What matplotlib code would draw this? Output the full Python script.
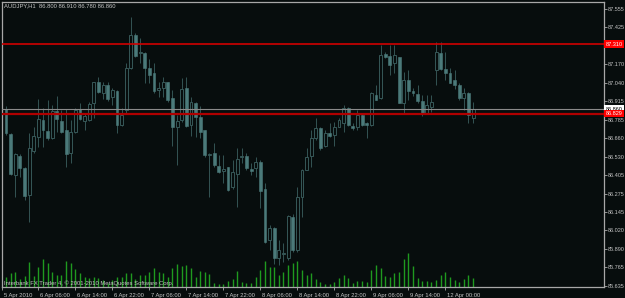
import matplotlib
matplotlib.use("Agg")
import matplotlib.pyplot as plt
import matplotlib.transforms as mtransforms
import numpy as np

# AUDJPY H1 bars, 5 Apr 23:00 .. 12 Apr 06:00
opens = [86.859, 86.686, 86.404, 86.535, 86.455, 86.266, 86.572, 86.669, 86.785, 86.708,
         86.658, 86.849, 86.778, 86.715, 86.558, 86.704, 86.859, 86.778, 86.785, 86.900,
         87.045, 86.974, 87.027, 86.946, 86.987, 86.750, 86.854, 87.144, 87.373, 87.248,
         87.250, 87.146, 87.108, 86.992, 87.004, 87.050, 86.935, 86.734, 86.785, 87.004,
         86.750, 86.900, 86.807, 86.715, 86.539, 86.554, 86.468, 86.434, 86.457, 86.318,
         86.409, 86.529, 86.535, 86.446, 86.450, 86.496, 86.304, 85.953, 86.034, 85.828,
         85.856, 85.828, 86.114, 85.884, 86.252, 86.441, 86.535, 86.658, 86.727, 86.605,
         86.693, 86.681, 86.738, 86.764, 86.866, 86.743, 86.738, 86.819, 86.766, 86.750,
         86.958, 86.935, 87.239, 87.228, 87.177, 87.219, 86.904, 87.061, 86.985, 86.965,
         86.918, 86.835, 86.872, 87.131, 87.250, 87.135, 87.112, 87.061, 87.027, 86.935,
         86.969, 86.796]
highs = [86.881, 86.693, 86.554, 86.547, 86.461, 86.693, 86.738, 86.928, 86.866, 86.923,
         86.888, 86.951, 86.854, 86.859, 86.785, 86.866, 86.900, 86.835, 86.911, 87.050,
         87.084, 87.050, 87.045, 87.004, 86.992, 86.866, 87.177, 87.499, 87.387, 87.352,
         87.257, 87.207, 87.177, 87.050, 87.084, 87.050, 86.992, 86.819, 87.073, 87.084,
         86.946, 86.911, 86.881, 86.718, 86.556, 86.623, 86.542, 86.542, 86.461, 86.508,
         86.589, 86.591, 86.554, 86.485, 86.531, 86.508, 86.346, 86.057, 86.045, 85.953,
         85.930, 86.126, 86.137, 86.321, 86.448, 86.589, 86.715, 86.796, 86.738, 86.715,
         86.762, 86.773, 86.796, 86.888, 86.873, 86.764, 86.854, 86.831, 86.773, 86.980,
         87.027, 87.304, 87.255, 87.304, 87.304, 87.222, 87.119, 87.131, 87.006, 87.027,
         86.958, 86.958, 86.958, 87.327, 87.327, 87.257, 87.142, 87.131, 87.039, 87.004,
         86.980, 86.911]
lows = [86.681, 86.404, 86.254, 86.392, 86.231, 86.081, 86.554, 86.600, 86.600, 86.646,
        86.651, 86.704, 86.693, 86.461, 86.485, 86.693, 86.785, 86.715, 86.778, 86.796,
        86.969, 86.928, 86.918, 86.888, 86.693, 86.743, 86.831, 87.138, 87.221, 87.179,
        87.039, 87.041, 86.969, 86.946, 86.946, 86.911, 86.605, 86.473, 86.773, 86.738,
        86.674, 86.669, 86.658, 86.531, 86.254, 86.461, 86.416, 86.347, 86.295, 86.304,
        86.185, 86.487, 86.439, 86.404, 86.392, 86.174, 85.934, 85.884, 85.787, 85.780,
        85.800, 85.814, 85.872, 85.872, 86.114, 86.439, 86.461, 86.646, 86.577, 86.596,
        86.669, 86.605, 86.734, 86.704, 86.743, 86.715, 86.715, 86.743, 86.658, 86.743,
        86.920, 86.932, 87.214, 87.096, 87.108, 86.900, 86.831, 86.923, 86.951, 86.904,
        86.812, 86.828, 86.842, 87.027, 87.131, 87.061, 87.039, 86.999, 86.923, 86.854,
        86.762, 86.762]
closes = [86.693, 86.411, 86.547, 86.450, 86.259, 86.589, 86.674, 86.789, 86.715, 86.658,
          86.849, 86.789, 86.704, 86.547, 86.704, 86.854, 86.789, 86.812, 86.895, 87.045,
          86.980, 87.027, 86.928, 86.992, 86.748, 86.819, 87.142, 87.373, 87.228, 87.255,
          87.142, 87.096, 86.987, 87.006, 87.050, 86.923, 86.734, 86.780, 86.997, 86.743,
          86.911, 86.807, 86.704, 86.542, 86.549, 86.473, 86.427, 86.446, 86.300, 86.427,
          86.515, 86.532, 86.450, 86.434, 86.492, 86.295, 85.941, 86.034, 85.828, 85.884,
          85.863, 86.119, 85.884, 86.252, 86.441, 86.531, 86.658, 86.727, 86.589, 86.693,
          86.676, 86.734, 86.785, 86.868, 86.750, 86.727, 86.819, 86.750, 86.750, 86.969,
          86.923, 87.234, 87.223, 87.165, 87.234, 86.904, 87.061, 86.985, 86.969, 86.916,
          86.831, 86.888, 86.911, 87.257, 87.135, 87.108, 87.043, 87.027, 86.935, 86.969,
          86.819, 86.860]
volumes = [310, 410, 460, 230, 330, 760, 330, 590, 860, 710,
           460, 360, 360, 780, 710, 530, 410, 290, 260, 290,
           260, 210, 130, 210, 290, 310, 410, 430, 240, 360,
           360, 440, 560, 460, 410, 310, 560, 680, 630, 660,
           560, 310, 480, 460, 390, 110, 80, 80, 180, 240,
           480, 160, 130, 130, 310, 510, 780, 610, 610, 360,
           460, 660, 730, 780, 510, 360, 410, 240, 160, 90,
           80, 140, 260, 360, 260, 130, 190, 190, 160, 510,
           660, 560, 330, 290, 410, 460, 860, 1030, 630, 260,
           180, 180, 160, 210, 360, 460, 310, 210, 160, 240,
           360, 260]

tick_labels = ['5 Apr 2010', '6 Apr 06:00', '6 Apr 14:00', '6 Apr 22:00', '7 Apr 06:00',
               '7 Apr 14:00', '7 Apr 22:00', '8 Apr 06:00', '8 Apr 14:00', '8 Apr 22:00',
               '9 Apr 06:00', '9 Apr 14:00', '12 Apr 00:00']
price_ticks = [87.555, 87.425, 87.300, 87.170, 87.040, 86.915, 86.785, 86.660, 86.530,
               86.405, 86.275, 86.145, 86.020, 85.890, 85.765, 85.635]
resistance = 87.310
support = 86.829
bid = 86.860

BG = '#070d0d'
FG = '#c4c4c4'
BEAR = '#4b7a7a'
BULL_EDGE = '#365858'
WICK = '#345454'
VOL = '#1f9a1f'
FONT = 'Liberation Sans'

x = np.arange(len(opens))
o = np.array(opens)
c = np.array(closes)
h = np.array(highs)
l = np.array(lows)
bear = c < o

fig = plt.figure(figsize=(6.25, 2.98), dpi=100, facecolor=BG)
ax = fig.add_axes([2 / 625, 1 - 287 / 298, 602 / 625, 285 / 298])

# volumes on their own scale at the bottom of the chart
axv = ax.twinx()
axv.vlines(x, 0, volumes, color=VOL, lw=1.0)
axv.set_ylim(0, 8600)
axv.axis('off')

ax.set_zorder(axv.get_zorder() + 1)
ax.patch.set_visible(False)
axv.patch.set_visible(False)
fig.patch.set_facecolor(BG)

# candles
ax.vlines(x, l, h, color=WICK, lw=0.7, zorder=2)
ax.bar(x[bear], (o - c)[bear], bottom=c[bear], width=0.62,
       color=BEAR, edgecolor=BEAR, lw=0.4, zorder=3)
ax.bar(x[~bear], np.maximum(c - o, 0.002)[~bear], bottom=o[~bear], width=0.62,
       color=BG, edgecolor=BULL_EDGE, lw=0.7, zorder=3)

# horizontal lines
ax.axhline(resistance, color='#d00000', lw=1.2, zorder=4)
ax.axhline(bid, color='#8a8a8a', lw=0.8, zorder=4)
ax.axhline(support, color='#b00000', lw=1.6, zorder=4)

ax.set_xlim(-0.865, 129.3)
ax.set_ylim(85.629, 87.601)

for sp in ax.spines.values():
    sp.set_color('#a8a8a8')
    sp.set_linewidth(0.9)

ax.yaxis.tick_right()
ax.set_yticks(price_ticks)
# the 87.300 label sits under the red price marker
ax.set_yticklabels(['' if p == 87.300 else f'{p:.3f}' for p in price_ticks],
                   fontsize=4.0, color=FG, family=FONT)
ax.tick_params(axis='y', colors='#a8a8a8', length=2.0, width=0.6, pad=1.0, labelcolor=FG)

tick_pos = [-0.865, 7, 15, 23, 31, 39, 47, 55, 63, 71, 79, 87, 95]
ax.set_xticks(tick_pos)
ax.set_xticklabels(tick_labels, fontsize=4.2, color=FG, family=FONT)
ax.tick_params(axis='x', colors='#a8a8a8', length=2.5, width=0.6, pad=1.5, labelcolor=FG)
shift = mtransforms.ScaledTranslation(2 / 100, 0, fig.dpi_scale_trans)
for lab in ax.get_xticklabels():
    lab.set_ha('left')
    lab.set_transform(lab.get_transform() + shift)

# price markers on the right scale
tr = mtransforms.blended_transform_factory(ax.transAxes, ax.transData)
for val, face, txt in [(resistance, '#ff0000', 'white'), (bid, 'white', 'black'),
                       (support, '#ff0000', 'white')]:
    ax.text(1.003, val, f'{val:.3f}', transform=tr, fontsize=4.0, family=FONT,
            color=txt, va='center', ha='left', clip_on=False, zorder=6,
            bbox=dict(boxstyle='square,pad=0.25', fc=face, ec='none'))

fig.text(4 / 625, 1 - 6 / 298, 'AUDJPY,H1  86.800 86.910 86.780 86.860', fontsize=4.2,
         family=FONT, color=FG, va='center', ha='left')
fig.text(4 / 625, 1 - 283 / 298, 'Interbank FX Trader 4, \u00a9 2001-2010 MetaQuotes Software Corp.',
         fontsize=4.2, family=FONT, color=FG, va='center', ha='left')

fig.savefig('out.png', dpi=100, facecolor=BG)
